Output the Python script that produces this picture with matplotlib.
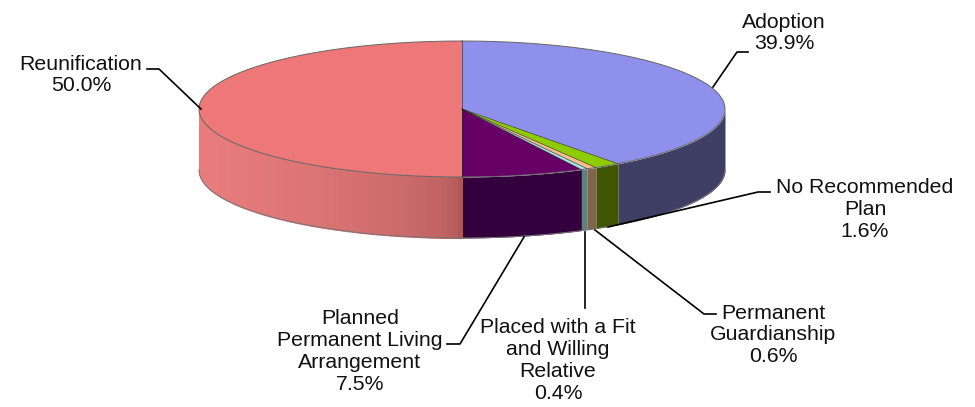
import numpy as np
import matplotlib
matplotlib.use('Agg')
import matplotlib.pyplot as plt

plt.rcParams['font.family'] = ['Liberation Sans', 'DejaVu Sans']

labels = ['Adoption\n39.9%', 'No Recommended\nPlan\n1.6%', 'Permanent\nGuardianship\n0.6%',
          'Placed with a Fit\nand Willing\nRelative\n0.4%',
          'Planned\nPermanent Living\nArrangement\n7.5%', 'Reunification\n50.0%']
values = [39.9, 1.6, 0.6, 0.4, 7.5, 50.0]
top_colors = ['#8f8fec', '#8ccc00', '#f2be8c', '#a6e6e6', '#660066', '#ee7777']
wall_colors = ['#3f3f66', '#3f5500', '#80644c', '#5f8080', '#33003d', '#e87c7c']

# pie placement in pixels of the 975x407 picture
cx, cy, rx, ry, depth = 462, 109, 263, 68, 61
W, H = 975, 407

def px(x, y):
    return (x - cx) / rx, (cy - y) / ry

fig = plt.figure(figsize=(9.75, 4.07), dpi=100)
ax = fig.add_axes([0, 0, 1, 1])

wedges, _ = ax.pie(values, startangle=90, counterclock=False, radius=1, center=(0, 0),
                   colors=top_colors, wedgeprops={'linewidth': 0}, normalize=True, frame=True)
for w in wedges:
    w.set_zorder(5)

ax.set_aspect('auto')
ax.set_xlim(-cx / rx, (W - cx) / rx)
ax.set_ylim((cy - H) / ry, cy / ry)
ax.axis('off')

# side wall of the disc, only the part facing the viewer
d = depth / ry
ends = np.cumsum(values) / np.sum(values) * 2 * np.pi
starts = np.concatenate([[0], ends[:-1]])
for a, b, col, name in zip(starts, ends, wall_colors, labels):
    lo, hi = max(a, np.pi / 2), min(b, 3 * np.pi / 2)
    if hi <= lo:
        continue
    if name.startswith('Reunification'):
        # the big red wall darkens towards the front
        steps = 80
        c1 = np.array(matplotlib.colors.to_rgb('#e87c7c'))
        c2 = np.array(matplotlib.colors.to_rgb('#ad5757'))
        edges = np.linspace(lo, hi, steps + 1)
        for i in range(steps):
            t = np.linspace(edges[i], edges[i + 1], 6)
            f = min(1, abs(np.sin(t[0])) ** 0.45 * 1.02)
            c = c2 * (1 - f) + c1 * f
            ax.fill_between(np.sin(t), np.cos(t), np.cos(t) - d, color=c, lw=0.8, zorder=2)
    else:
        t = np.linspace(lo, hi, 60)
        ax.fill_between(np.sin(t), np.cos(t), np.cos(t) - d, color=col, lw=0, zorder=2)

# thin dark rims
t = np.linspace(0, 2 * np.pi, 400)
ax.plot(np.sin(t), np.cos(t), color='#666666', lw=0.7, zorder=6)
t = np.linspace(np.pi / 2, 3 * np.pi / 2, 200)
ax.plot(np.sin(t), np.cos(t) - d, color='#777777', lw=0.7, zorder=6)
for a in starts:
    ax.plot([0, np.sin(a)], [0, np.cos(a)], color='#222222', lw=0.4, zorder=6)

# labels and leaders
text_pos = [(784, 33), (865, 209.5), (773, 335), (558, 360.5), (360, 351.5), (81, 75)]
leaders = [[(748, 52), (737, 52), (713, 87)],
           [(770, 192), (758, 192), (608, 227)],
           [(716, 314), (704, 314), (595, 230)],
           [(585, 308), (585, 232)],
           [(447, 344), (460, 344), (524, 237)],
           [(147, 69), (159, 69), (201, 109)]]
for name, pos, line in zip(labels, text_pos, leaders):
    x, y = px(*pos)
    ax.text(x, y, name, ha='center', va='center', fontsize=15.3, color='#111111',
            linespacing=1.18, zorder=8)
    pts = np.array([px(*p) for p in line])
    ax.plot(pts[:, 0], pts[:, 1], color='black', lw=1.2, zorder=7)

fig.savefig('out.png', dpi=100, facecolor='white')
